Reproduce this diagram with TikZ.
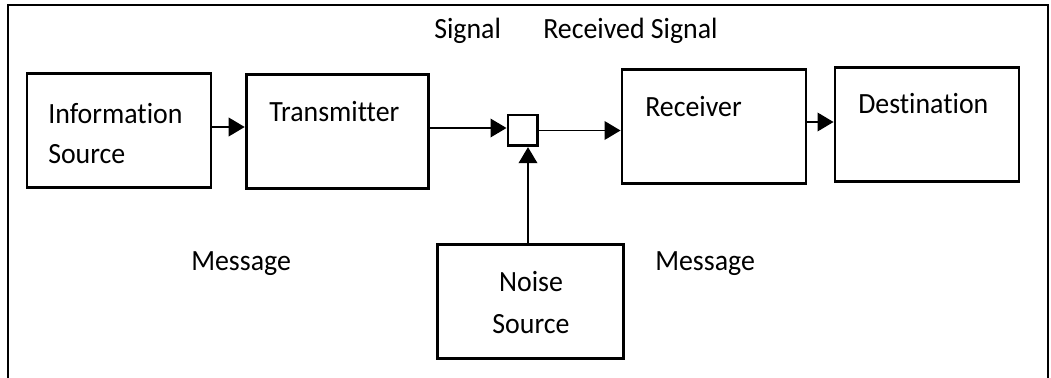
\documentclass[tikz,border=0pt]{standalone}
\usepackage{fontspec}
\setmainfont[Ligatures=NoCommon,FakeStretch=0.95]{Carlito}
\usetikzlibrary{arrows.meta}
\begin{document}
\begin{tikzpicture}[x=0.75pt,y=-0.75pt,
  every node/.style={font=\fontsize{22}{26}\selectfont},
  block/.style={draw,line width=2.2pt,rectangle,inner sep=0pt},
  junction/.style={draw,line width=2pt,rectangle,inner sep=0pt,minimum width=22pt,minimum height=23pt},
  lbl/.style={inner sep=0pt,anchor=base west},
  flow/.style={line width=1.1pt,-{Triangle[length=12pt,width=14pt]}},
  frame/.style={line width=1.3pt}
]
\useasboundingbox (0,0) rectangle (1051,378);

% open frame around the diagram
\draw[frame] (8,5) -- (1048,5);
\draw[frame,line width=2.2pt] (8,378) -- (8,4.2);
\draw[frame,line width=1.8pt] (1048,378) -- (1048,4.4);

% blocks
\node[block,minimum width=138pt,minimum height=85pt] (src) at (119,130.5) {};
\node[block,minimum width=137pt,minimum height=85pt] (tx)  at (337.5,131.5) {};
\node[junction] (mix) at (522.5,130.5) {};
\node[block,minimum width=138pt,minimum height=85pt] (rx)  at (714,126.5) {};
\node[block,minimum width=138pt,minimum height=85pt] (dst) at (927,124.5) {};
\node[block,minimum width=139pt,minimum height=85pt] (ns)  at (530.5,301.5) {};

% block texts
\node[lbl] (srcA) at (48,123) {Information};
\node[lbl] (srcB) at (48,164) {Source};
\node[lbl] (txT)  at (269,122) {Transmitter};
\node[lbl] (rxT)  at (645,117) {Receiver};
\node[lbl] (dstT) at (858,114) {Destination};
\node[inner sep=0pt,anchor=base] (nsA) at (531,291) {Noise};
\node[inner sep=0pt,anchor=base] (nsB) at (531,333) {Source};

% free labels
\node[lbl] (sig)  at (434,39) {Signal};
\node[lbl] (rsig) at (543,39) {Received Signal};
\node[lbl] (msgL) at (191,270) {Message};
\node[lbl] (msgR) at (655,270) {Message};

% connectors
\draw[flow] (src.east |- 0,127) -- (tx.west |- 0,127);
\draw[flow] (tx.east |- 0,128) -- (mix.west |- 0,128);
\draw[flow] (mix.east) -- (rx.west |- mix.east);
\draw[flow] (rx.east |- 0,122) -- (dst.west |- 0,122);
\draw[flow] (528,0 |- ns.north) -- (528,0 |- mix.south);
\end{tikzpicture}
\end{document}
